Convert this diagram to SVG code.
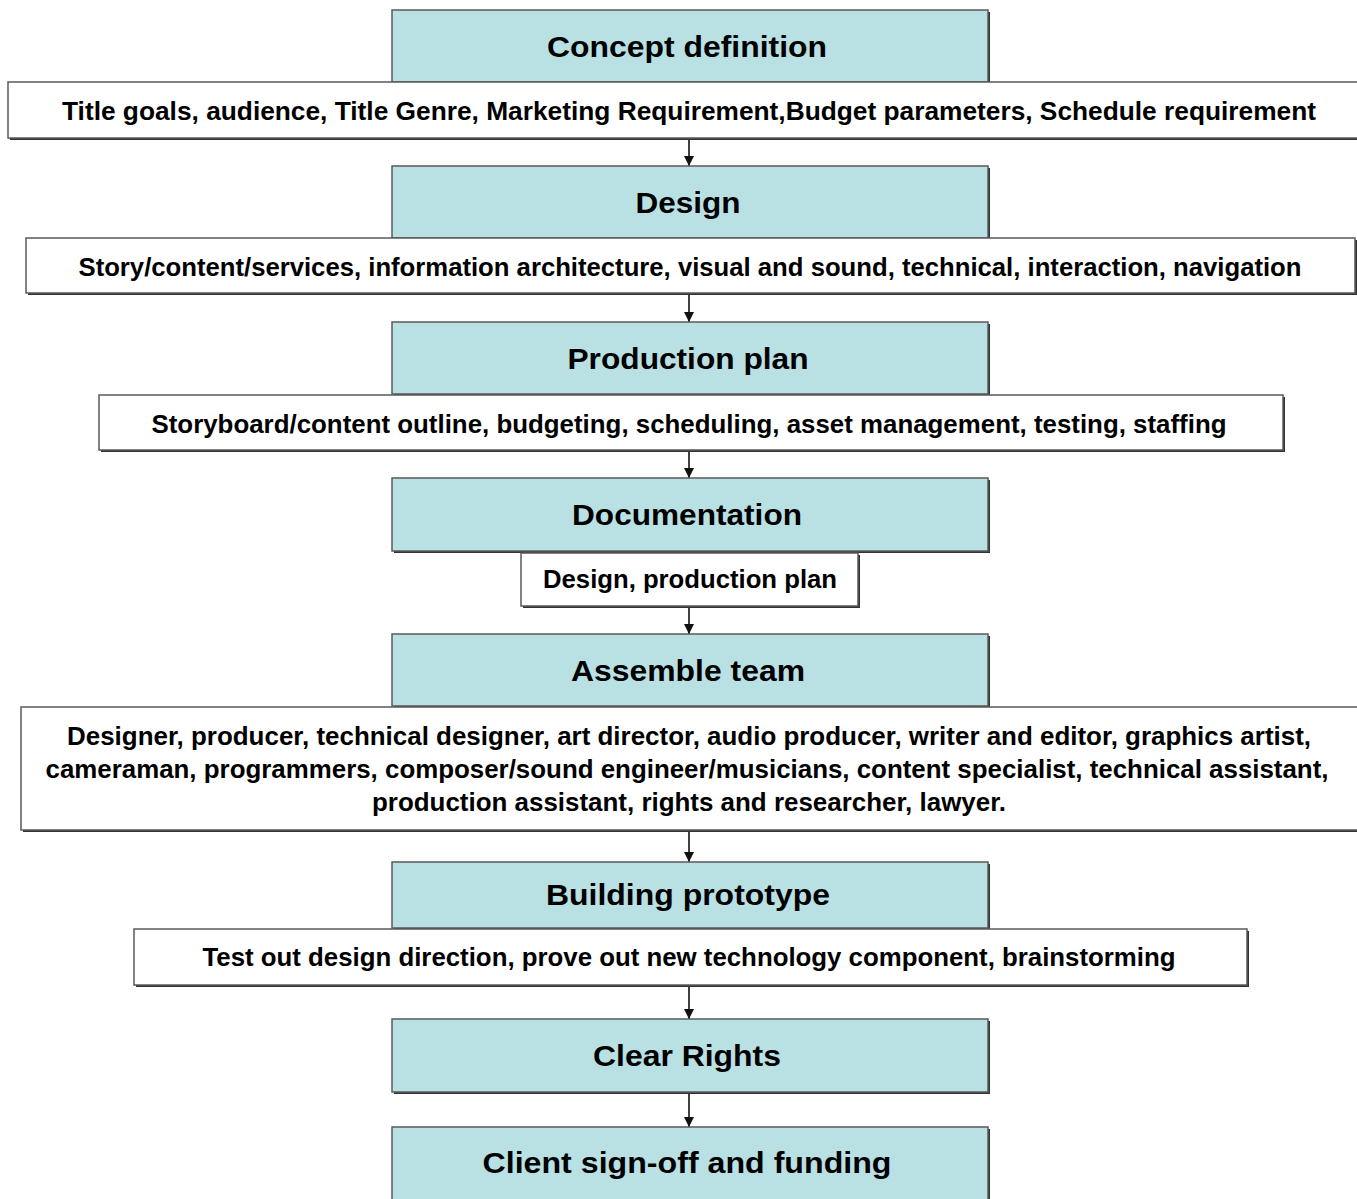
<svg xmlns="http://www.w3.org/2000/svg" width="1357" height="1199" viewBox="0 0 1357 1199">
<defs>
<style>
.bg{fill:#ffffff}
.sh{fill:#333333}
.blue{fill:#b9e0e3;stroke:#5a5a5a;stroke-width:1.5}
.white{fill:#ffffff;stroke:#5a5a5a;stroke-width:1.5}
.h{font-family:"Liberation Sans",Arial,sans-serif;font-weight:bold;font-size:29px;fill:#000;text-anchor:middle}
.t{font-family:"Liberation Sans",Arial,sans-serif;font-weight:bold;font-size:25px;fill:#000;text-anchor:middle}
.conn{stroke:#111;stroke-width:1.6;fill:none}
</style>
<marker id="arr" viewBox="0 0 10 10" refX="10" refY="5" markerWidth="10" markerHeight="10" markerUnits="userSpaceOnUse" orient="auto">
<path d="M0,0 L10,5 L0,10 z" fill="#111"/>
</marker>
</defs>
<rect class="bg" x="0" y="0" width="1357" height="1199"/>

<g id="connectors">
<line class="conn" x1="689" y1="139" x2="689" y2="166" marker-end="url(#arr)"/>
<line class="conn" x1="689" y1="294" x2="689" y2="322" marker-end="url(#arr)"/>
<line class="conn" x1="689" y1="451" x2="689" y2="478" marker-end="url(#arr)"/>
<line class="conn" x1="689" y1="607" x2="689" y2="634" marker-end="url(#arr)"/>
<line class="conn" x1="689" y1="831" x2="689" y2="862" marker-end="url(#arr)"/>
<line class="conn" x1="689" y1="986" x2="689" y2="1019" marker-end="url(#arr)"/>
<line class="conn" x1="689" y1="1094" x2="689" y2="1127" marker-end="url(#arr)"/>
</g>

<g id="concept-definition">
<rect class="sh" x="394" y="12" width="596" height="72"/>
<rect class="blue" x="392" y="10" width="596" height="72"/>
<text class="h" x="687" y="57" textLength="280" lengthAdjust="spacingAndGlyphs">Concept definition</text>
</g>
<g id="concept-details">
<rect class="sh" x="10" y="84" width="1360" height="56"/>
<rect class="white" x="8" y="82" width="1360" height="56"/>
<text class="t" x="689" y="120" textLength="1254" lengthAdjust="spacingAndGlyphs">Title goals, audience, Title Genre, Marketing Requirement,Budget parameters, Schedule requirement</text>
</g>

<g id="design">
<rect class="sh" x="394" y="168" width="596" height="72"/>
<rect class="blue" x="392" y="166" width="596" height="72"/>
<text class="h" x="688" y="213" textLength="105" lengthAdjust="spacingAndGlyphs">Design</text>
</g>
<g id="design-details">
<rect class="sh" x="28" y="240" width="1329" height="55"/>
<rect class="white" x="26" y="238" width="1329" height="55"/>
<text class="t" x="690" y="276" textLength="1223" lengthAdjust="spacingAndGlyphs">Story/content/services, information architecture, visual and sound, technical, interaction, navigation</text>
</g>

<g id="production-plan">
<rect class="sh" x="394" y="324" width="596" height="72"/>
<rect class="blue" x="392" y="322" width="596" height="72"/>
<text class="h" x="688" y="369" textLength="241" lengthAdjust="spacingAndGlyphs">Production plan</text>
</g>
<g id="production-details">
<rect class="sh" x="101" y="397" width="1184" height="55"/>
<rect class="white" x="99" y="395" width="1184" height="55"/>
<text class="t" x="689" y="433" textLength="1075" lengthAdjust="spacingAndGlyphs">Storyboard/content outline, budgeting, scheduling, asset management, testing, staffing</text>
</g>

<g id="documentation">
<rect class="sh" x="394" y="480" width="596" height="73"/>
<rect class="blue" x="392" y="478" width="596" height="73"/>
<text class="h" x="687" y="525" textLength="230" lengthAdjust="spacingAndGlyphs">Documentation</text>
</g>
<g id="documentation-details">
<rect class="sh" x="523" y="555" width="337" height="53"/>
<rect class="white" x="521" y="553" width="337" height="53"/>
<text class="t" x="690" y="588" textLength="294" lengthAdjust="spacingAndGlyphs">Design, production plan</text>
</g>

<g id="assemble-team">
<rect class="sh" x="394" y="636" width="596" height="72"/>
<rect class="blue" x="392" y="634" width="596" height="72"/>
<text class="h" x="688" y="681" textLength="234" lengthAdjust="spacingAndGlyphs">Assemble team</text>
</g>
<g id="team-details">
<rect class="sh" x="23" y="709" width="1360" height="123"/>
<rect class="white" x="21" y="707" width="1360" height="123"/>
<text class="t" x="689" y="745" textLength="1244" lengthAdjust="spacingAndGlyphs">Designer, producer, technical designer, art director, audio producer, writer and editor, graphics artist,</text>
<text class="t" x="687" y="778" textLength="1283" lengthAdjust="spacingAndGlyphs">cameraman, programmers, composer/sound engineer/musicians, content specialist, technical assistant,</text>
<text class="t" x="689" y="811" textLength="634" lengthAdjust="spacingAndGlyphs">production assistant, rights and researcher, lawyer.</text>
</g>

<g id="building-prototype">
<rect class="sh" x="394" y="864" width="596" height="66"/>
<rect class="blue" x="392" y="862" width="596" height="66"/>
<text class="h" x="688" y="905" textLength="284" lengthAdjust="spacingAndGlyphs">Building prototype</text>
</g>
<g id="prototype-details">
<rect class="sh" x="136" y="931" width="1113" height="56"/>
<rect class="white" x="134" y="929" width="1113" height="56"/>
<text class="t" x="689" y="966" textLength="973" lengthAdjust="spacingAndGlyphs">Test out design direction, prove out new technology component, brainstorming</text>
</g>

<g id="clear-rights">
<rect class="sh" x="394" y="1021" width="596" height="73"/>
<rect class="blue" x="392" y="1019" width="596" height="73"/>
<text class="h" x="687" y="1066" textLength="188" lengthAdjust="spacingAndGlyphs">Clear Rights</text>
</g>

<g id="client-sign-off">
<rect class="sh" x="394" y="1129" width="596" height="80"/>
<rect class="blue" x="392" y="1127" width="596" height="80"/>
<text class="h" x="687" y="1173" textLength="409" lengthAdjust="spacingAndGlyphs">Client sign-off and funding</text>
</g>
</svg>
